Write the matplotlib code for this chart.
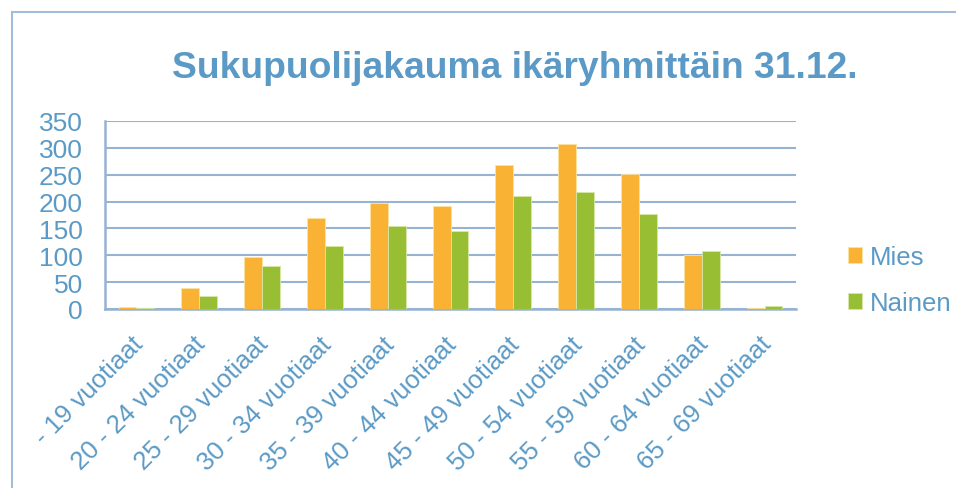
import matplotlib
matplotlib.use("Agg")
import matplotlib.pyplot as plt
import numpy as np
from matplotlib.patches import Rectangle
import matplotlib.transforms as mtransforms

categories = ["- 19 vuotiaat", "20 - 24 vuotiaat", "25 - 29 vuotiaat", "30 - 34 vuotiaat",
              "35 - 39 vuotiaat", "40 - 44 vuotiaat", "45 - 49 vuotiaat", "50 - 54 vuotiaat",
              "55 - 59 vuotiaat", "60 - 64 vuotiaat", "65 - 69 vuotiaat"]
mies = [3, 39, 97, 170, 198, 191, 268, 308, 251, 101, 2]
nainen = [1, 25, 80, 118, 155, 146, 210, 217, 177, 108, 5]
yticks = [0, 50, 100, 150, 200, 250, 300, 350]
title = "Sukupuolijakauma ikäryhmittäin 31.12."

plt.rcParams['font.family'] = ['Liberation Sans', 'DejaVu Sans']
txt_color = "#5B9AC6"
grid_color = "#97B3D2"
c_mies = "#F9B233"
c_nainen = "#98BE33"

W, H = 956, 489
fig = plt.figure(figsize=(W/100, H/100), dpi=100)

# outer chart border (bottom and right edges run off the image)
fig.patches.append(Rectangle((12/W, -0.05), 1.0, 1.05 - 13/H, transform=fig.transFigure,
                             fill=False, edgecolor="#A3BCD8", linewidth=1.5))

ax = fig.add_axes([105/W, 1 - 310/H, (796-105)/W, (310-122)/H])
x = np.arange(len(categories))
w = 0.285
ax.bar(x - w/2, mies, w, color=c_mies, edgecolor="#FCE3A0", linewidth=0.6, label="Mies", zorder=3)
ax.bar(x + w/2, nainen, w, color=c_nainen, edgecolor="#D6E7A8", linewidth=0.6, label="Nainen", zorder=3)

ax.set_xlim(-0.5, len(categories) - 0.5)
ax.set_ylim(0, 350)
ax.set_yticks(yticks)
ax.set_yticklabels([str(v) for v in yticks], fontsize=19, color=txt_color)
ax.yaxis.grid(True, color=grid_color, linewidth=1.5, zorder=0)
ax.set_axisbelow(True)
for s in ["top", "right"]:
    ax.spines[s].set_visible(False)
for s in ["left", "bottom"]:
    ax.spines[s].set_color(grid_color)
    ax.spines[s].set_linewidth(1.8)
ax.tick_params(axis="y", length=0, pad=16)
ax.tick_params(axis="x", length=0, pad=4)
ax.set_xticks(x)
ax.set_xticklabels(categories, rotation=45, ha="right", rotation_mode="anchor",
                   fontsize=18.5, color=txt_color)
offset = mtransforms.ScaledTranslation(-6/100, -17/100, fig.dpi_scale_trans)
for lab in ax.get_xticklabels():
    lab.set_transform(lab.get_transform() + offset)

fig.text(515/W, 1 - 68/H, title, ha="center", va="center", fontsize=26.8,
         fontweight="bold", color=txt_color)

leg = fig.legend(loc="upper left", bbox_to_anchor=(838/W, 1 - 236/H), frameon=False,
                 fontsize=18.5, labelcolor=txt_color, handlelength=0.55, handleheight=0.55,
                 handletextpad=0.3, labelspacing=0.85, borderaxespad=0)

fig.savefig("out.png", dpi=100)
